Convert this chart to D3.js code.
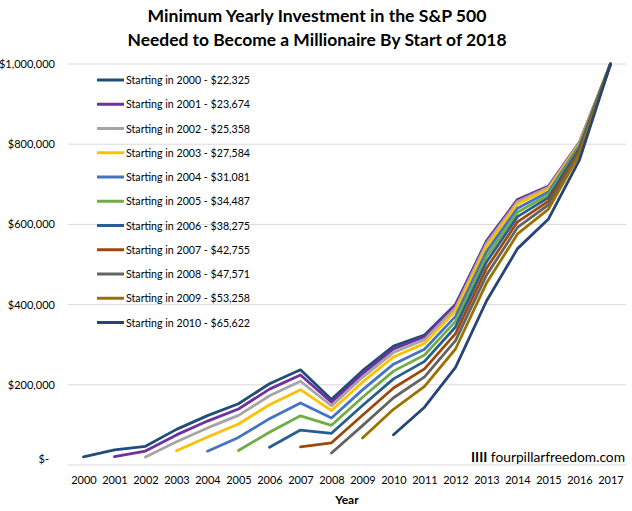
<!DOCTYPE html>
<html><head><meta charset="utf-8">
<script src="https://cdn.jsdelivr.net/npm/d3@7"></script>
<style>
body{margin:0;background:#fff}
svg{display:block}
text{font-family:Lato,"Open Sans",sans-serif;fill:#000}
</style>
</head><body>
<svg id="c" width="632" height="511"></svg>
<script>
const years = [2000,2001,2002,2003,2004,2005,2006,2007,2008,2009,2010,2011,2012,2013,2014,2015,2016,2017];
const startYears = [2000,2001,2002,2003,2004,2005,2006,2007,2008,2009,2010];
const investments = ["$22,325","$23,674","$25,358","$27,584","$31,081","$34,487","$38,275","$42,755","$47,571","$53,258","$65,622"];
const colors = ["#1F4E79","#7030A0","#A5A5A5","#FFC000","#4472C4","#70AD47","#255E91","#9E480E","#636363","#997300","#264478"];
const yTicks = [0,200000,400000,600000,800000,1000000];

const s2000 = [20300,37500,46600,88800,123200,152700,202700,237400,163600,235200,296400,324000,400500,557000,660000,693000,801000,1000000];
const s2001 = [20900,34700,75100,109500,139700,189200,224600,156400,227800,289400,319700,398300,558700,662200,695500,805500,1000000];
const s2002 = [19800,58100,92500,123700,172600,208800,147500,218700,280900,312700,392100,552800,657300,692300,803700,1000000];
const s2003 = [35500,70000,102300,150400,187800,135700,206500,269500,303300,383800,544700,650600,687700,801100,1000000];
const s2004 = [34500,68800,115600,154800,117100,187400,251500,288500,370700,532000,640200,680700,797200,1000000];
const s2005 = [36200,81800,122700,99000,168900,234100,274200,358100,519800,630300,674100,793600,1000000];
const s2006 = [44300,87100,79000,148400,214800,258400,344200,506400,619300,666800,789600,1000000];
const s2007 = [45100,55400,124100,192100,239800,327700,490500,606400,658200,785100,1000000];
const s2008 = [30000,98100,167700,219700,310100,473500,592500,649000,780200,1000000];
const s2009 = [67400,138900,196100,289300,453600,576200,638300,774600,1000000];
const s2010 = [75500,144100,243300,409000,539600,613700,760900,1000000];
const seriesValues = [s2000,s2001,s2002,s2003,s2004,s2005,s2006,s2007,s2008,s2009,s2010];

const svg = d3.select("#c");
const L = 68, R = 626, T = 64, B = 465;

function fit(sel, w){
  sel.each(function(){
    const n = this.getComputedTextLength();
    if (n > 0) d3.select(this).attr("textLength", w).attr("lengthAdjust","spacingAndGlyphs");
  });
  return sel;
}

const x = d3.scalePoint().domain(years).range([L, R]).padding(0.5);
const y = d3.scaleLinear().domain([0, 1000000]).range([B, T]);

// gridlines
svg.append("g").selectAll("line").data(yTicks).join("line")
  .attr("x1", L).attr("x2", R)
  .attr("y1", d => y(d)).attr("y2", d => y(d))
  .attr("stroke", "#D9D9D9").attr("stroke-width", 1);

// y axis labels
const fmt = d3.format("$,");
const yAxis = d3.axisLeft(y).tickValues(yTicks).tickSize(0).tickPadding(0)
  .tickFormat(d => d === 0 ? "$-" : fmt(d));
const gy = svg.append("g").attr("transform", `translate(55,0)`).call(yAxis);
gy.select(".domain").remove();
gy.selectAll("text").attr("font-family", "Lato").attr("font-size", 11).attr("fill", "#000")
  .attr("dx", d => d === 0 ? -6 : 0).attr("dy", d => d === 0 ? "-0.25em" : "0.32em");

// x axis labels
const xAxis = d3.axisBottom(x).tickSize(0).tickPadding(0);
const gx = svg.append("g").attr("transform", `translate(0,476)`).call(xAxis);
gx.select(".domain").remove();
gx.selectAll("text").attr("font-family", "Lato").attr("font-size", 11).attr("fill", "#000");

// lines
const line = d3.line().x(d => x(d.year)).y(d => y(d.value));
startYears.forEach((sy, i) => {
  const pts = seriesValues[i].map((v, j) => ({year: sy + j, value: v}));
  svg.append("path").datum(pts)
    .attr("d", line)
    .attr("fill", "none")
    .attr("stroke", colors[i])
    .attr("stroke-width", 2.8)
    .attr("stroke-linejoin", "round")
    .attr("stroke-linecap", "round");
});

// legend
const lg = svg.append("g");
startYears.forEach((sy, i) => {
  const yy = 80 + i * 24.25;
  lg.append("line").attr("x1", 97).attr("x2", 124).attr("y1", yy).attr("y2", yy)
    .attr("stroke", colors[i]).attr("stroke-width", 3);
  fit(lg.append("text").attr("x", 126).attr("y", yy).attr("dy", "0.35em")
    .attr("font-size", 12).text(`Starting in ${sy} - ${investments[i]}`), 124);
});

// title
fit(svg.append("text").attr("x", 317).attr("y", 22).attr("text-anchor", "middle")
  .attr("font-size", 17).attr("font-weight", "bold")
  .text("Minimum Yearly Investment in the S&P 500"), 339);
fit(svg.append("text").attr("x", 317).attr("y", 46).attr("text-anchor", "middle")
  .attr("font-size", 17).attr("font-weight", "bold")
  .text("Needed to Become a Millionaire By Start of 2018"), 379);

// axis title
svg.append("text").attr("x", 347).attr("y", 504).attr("text-anchor", "middle")
  .attr("font-size", 12).attr("font-weight", "bold").text("Year");

// watermark
const wm = svg.append("text").attr("x", 625).attr("y", 462).attr("text-anchor", "end").attr("font-size", 14);
wm.append("tspan").attr("font-weight", "bold").text("IIII");
wm.append("tspan").text(" fourpillarfreedom.com");
fit(wm, 154);
</script>
</body></html>
